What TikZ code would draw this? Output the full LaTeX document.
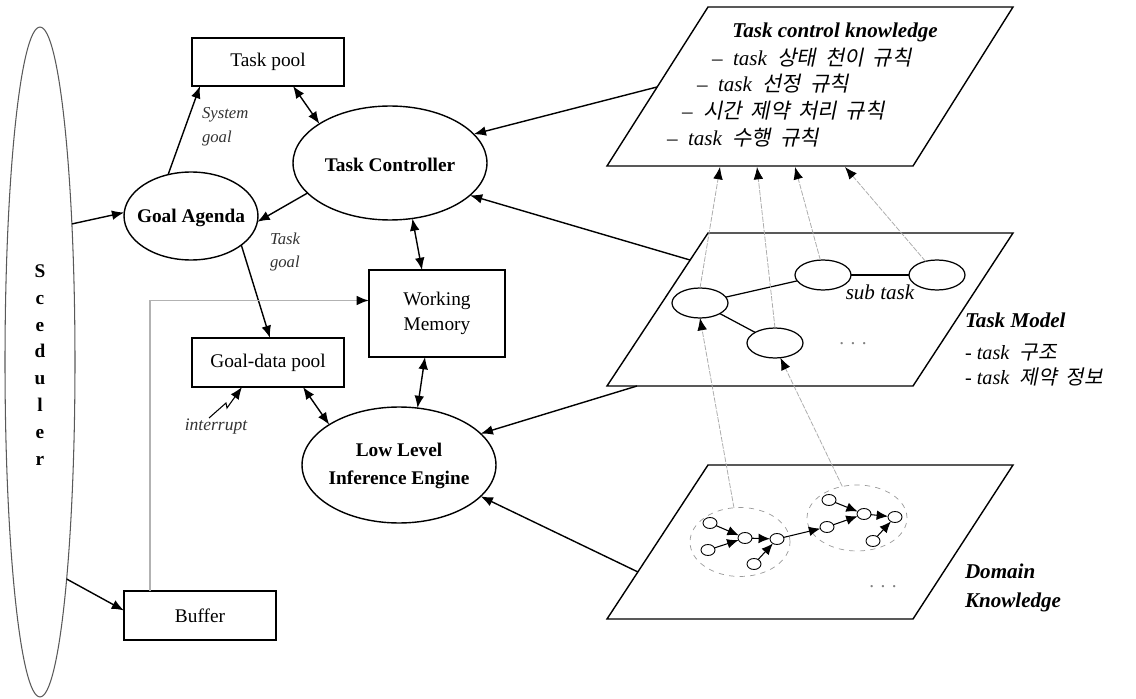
\documentclass[tikz,border=0pt]{standalone}
\usepackage{fontspec}
\setmainfont{Liberation Serif}
\newfontfamily\kr[FakeSlant=0.2]{Noto Sans CJK KR}
\newcommand{\ks}{\hspace{5pt}}
\usetikzlibrary{shapes.geometric,arrows.meta,calc}
\begin{document}
\begin{tikzpicture}[x=0.02cm,y=-0.02cm,
  every node/.style={inner sep=0pt, outer sep=0pt},
  box/.style={draw, line width=0.8pt, minimum width=3.04cm, font=\fontsize{11}{14.5}\selectfont},
  ell/.style={draw, ellipse, line width=0.8pt},
  bold/.style={font=\bfseries\fontsize{11}{16}\selectfont},
  tip/.style={-{Latex[length=7pt,width=5.5pt,color=black]}},
  arr/.style={line width=0.8pt, tip},
  darr/.style={line width=0.8pt, {Latex[length=7pt,width=5.5pt]}-{Latex[length=7pt,width=5.5pt]}},
  grayarr/.style={line width=1.1pt, draw=gray!60, tip},
  faint/.style={draw=gray!65, line width=0.45pt, dash pattern=on 3pt off 0.8pt, tip},
  plane/.style={draw, line width=0.8pt},
  smalllbl/.style={font=\itshape\fontsize{9.5}{13.5}\selectfont, text=black!80, align=left},
  biglbl/.style={font=\bfseries\itshape\fontsize{12}{16.5}\selectfont, align=left},
  kline/.style={font=\fontsize{12}{14}\selectfont, anchor=west},
  tmell/.style={draw, ellipse, line width=0.7pt, minimum width=1.12cm, minimum height=0.6cm},
  dkcl/.style={draw=gray!80, dashed, ellipse, line width=0.4pt, minimum width=2cm},
  dot/.style={draw, ellipse, line width=0.5pt, minimum width=0.28cm, minimum height=0.22cm},
  dkarr/.style={line width=0.6pt, -{Latex[length=6.5pt,width=5.5pt]}}
]
\useasboundingbox (0,0) rectangle (1136,699);

% ---------------- left part ----------------
\node[ell, draw=gray!70!black, line width=0.6pt, minimum width=1.4cm, minimum height=13.4cm] (sched) at (40,362) {};
\node[font=\bfseries\fontsize{11}{15.3}\selectfont, align=center] (schedtext) at (40,365) {S\\c\\e\\d\\u\\l\\e\\r};

\node[box, minimum height=0.96cm] (taskpool) at (268,62) {Task pool};
\node[ell, minimum width=3.88cm, minimum height=2.28cm] (tc) at (390,163) {};
\node[bold] (tctext) at (390,165) {Task Controller};
\node[ell, minimum width=2.68cm, minimum height=1.76cm] (ga) at (191,216) {};
\node[bold] (gatext) at (191,218) {Goal Agenda};
\node[box, minimum width=2.72cm, minimum height=1.74cm, align=center] (wm) at (437,313.5) {Working\\Memory};
\node[box, minimum height=0.98cm] (gdp) at (268,362.5) {Goal-data pool};
\node[ell, minimum width=3.88cm, minimum height=2.32cm] (llie) at (399,465) {};
\node[bold, align=center] (llietext) at (399,466) {Low Level\\Inference Engine};
\node[box, minimum height=0.98cm] (buf) at (200,615.5) {Buffer};

\node[smalllbl, anchor=west] (sysgoal) at (202,127) {System\\goal};
\node[smalllbl, anchor=west] (taskgoal) at (270,252) {Task\\goal};
\node[smalllbl, font=\itshape\fontsize{10}{12}\selectfont] (intlbl) at (216,427) {interrupt};

% ---------------- right planes ----------------
\draw[plane] (607,166) -- (708,7) -- (1013,7) -- (913,166) -- cycle;
\draw[plane] (607,386) -- (708,233) -- (1013,233) -- (913,386) -- cycle;
\draw[plane] (607,619) -- (708,465) -- (1013,465) -- (913,619) -- cycle;

\coordinate (tckL) at (657,87);
\coordinate (tmL) at (690,260);
\coordinate (tmB) at (637,386);
\coordinate (dkL) at (638,572);
\coordinate (k1) at (720,167);
\coordinate (k2) at (757,167);
\coordinate (k3) at (795,167);
\coordinate (k4) at (845,167);

% Task control knowledge text
\node[font=\bfseries\itshape\fontsize{12}{14}\selectfont] (tcktitle) at (835,32) {Task control knowledge};
\node[kline] (tck1) at (712,58) {\itshape – \ task\ \ {\kr 상태\ks 천이\ks 규칙}};
\node[kline] (tck2) at (697,84) {\itshape – \ task\ \ {\kr 선정\ks 규칙}};
\node[kline] (tck3) at (682,111) {\itshape – \ {\kr 시간\ks 제약\ks 처리\ks 규칙}};
\node[kline] (tck4) at (667,138) {\itshape – \ task\ \ {\kr 수행\ks 규칙}};

% Task model contents
\node[tmell] (e1) at (700,303) {};
\node[tmell] (e2) at (823,275) {};
\node[tmell] (e3) at (937,275) {};
\node[tmell] (e4) at (775,343) {};
\draw[line width=0.7pt] (e1) -- (e2);
\draw[line width=0.7pt] (e2) -- (e3);
\draw[line width=0.7pt] (e1) -- (e4);
\node[font=\itshape\fontsize{12}{14}\selectfont] (subtask) at (880,292) {sub task};
\node[font=\fontsize{11}{13}\selectfont, text=gray] (tmdots) at (853,344) {. . .};

\node[biglbl, anchor=west] (tmtitle) at (965,320) {Task Model};
\node[kline, font=\fontsize{11.5}{14}\selectfont] (tm1) at (965,353) {- \textit{task}\ \ {\kr 구조}};
\node[kline, font=\fontsize{11.5}{14}\selectfont] (tm2) at (965,377) {- \textit{task}\ \ {\kr 제약\ks 정보}};

% Domain knowledge contents
\node[dkcl, minimum height=1.38cm] (c1) at (740,542) {};
\node[dkcl, minimum height=1.32cm] (c2) at (857,518) {};
\node[dot] (da) at (710,523) {};
\node[dot] (db) at (708,550) {};
\node[dot] (dc) at (745,538) {};
\node[dot] (dd) at (777,539) {};
\node[dot] (de) at (754,564) {};
\node[dot] (df) at (829,500) {};
\node[dot] (dg) at (827,527) {};
\node[dot] (dh) at (864,514) {};
\node[dot] (di) at (895,517) {};
\node[dot] (dj) at (873,541) {};
\draw[dkarr] (da) -- (dc);
\draw[dkarr] (db) -- (dc);
\draw[dkarr] (dc) -- (dd);
\draw[dkarr] (de) -- (dd);
\draw[dkarr] (dd) -- (dg);
\draw[dkarr] (df) -- (dh);
\draw[dkarr] (dg) -- (dh);
\draw[dkarr] (dh) -- (di);
\draw[dkarr] (dj) -- (di);
\node[font=\fontsize{11}{13}\selectfont, text=gray] (dkdots) at (883,587) {. . .};
\node[biglbl, anchor=west] (dktitle) at (965,588) {Domain\\Knowledge};

% faint links between layers
\draw[faint] (e1.north) -- (k1);
\draw[faint] (e4.north) -- (k2);
\draw[faint] (e2.100) -- (k3);
\draw[faint] (e3.130) -- (k4);
\draw[faint] (c1.100) -- (e1.south);
\draw[faint] (c2.115) -- (e4.-70);

% ---------------- connectors ----------------
\draw[arr] (sched.77) -- (ga.177);
\draw[arr] (ga.119) -- ($(taskpool.south west)+(8,0)$);
\draw[darr] ($(taskpool.south)+(25,0)$) -- (tc.151);
\draw[arr] (tc.200) -- (ga.-5);
\draw[arr] (ga.-30) -- ($(gdp.north)+(2,0)$);
\draw[darr] (tc.-68) -- ($(wm.north)+(-15,0)$);
\draw[darr] ($(wm.south)+(-12,0)$) -- (llie.72);
\draw[darr] ($(gdp.south)+(35,0)$) -- (llie.150);
\draw[arr] (sched.-83) -- ($(buf.west)+(0,-5)$);
\draw[grayarr] ($(buf.north west)+(26,0)$) |- ($(wm.west)+(0,-13)$);
\coordinate (intS) at (209,418);
\draw[arr, line width=0.6pt] (intS) -- ++(17,-15) -- ++(1,5) -- ($(gdp.south)+(-26,0)$);
\draw[arr] (tckL) -- (tc.19);
\draw[arr] (tmL) -- (tc.-22);
\draw[arr] (tmB) -- (llie.21);
\draw[arr] (dkL) -- (llie.-21);
\end{tikzpicture}
\end{document}
